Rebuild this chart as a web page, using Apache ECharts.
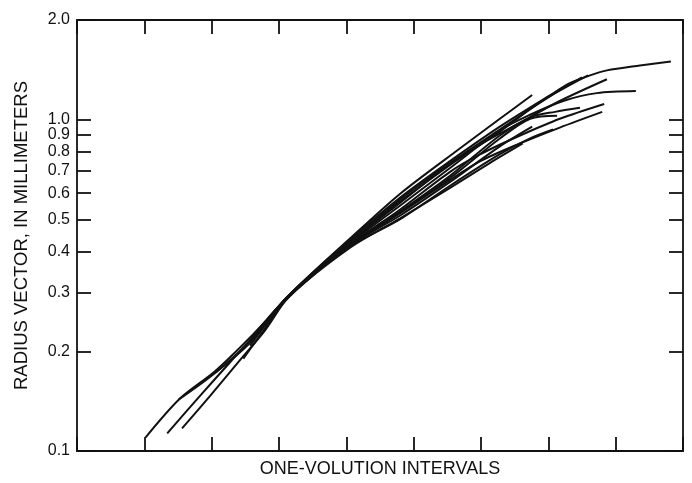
<!DOCTYPE html>
<html>
<head>
<meta charset="utf-8">
<script src="https://cdn.jsdelivr.net/npm/echarts@6/dist/echarts.min.js"></script>
<style>
  html, body { margin: 0; background: #fff; }
  #chart { width: 692px; height: 483px; }
</style>
</head>
<body>
<div id="chart"></div>
<script>
// tick values on the radius axis (mm)
const yTicks = [0.1, 0.2, 0.3, 0.4, 0.5, 0.6, 0.7, 0.8, 0.9, 1.0, 2.0];

// one curve per specimen: [volution interval, radius vector in mm]
const curveA = [[1.02, 0.110], [1.53, 0.144], [2.05, 0.174], [2.57, 0.220], [2.94, 0.265], [3.16, 0.297],
  [4.05, 0.434], [4.80, 0.582], [5.54, 0.750], [6.28, 0.953], [7.03, 1.187], [7.32, 1.289],
  [7.62, 1.361], [7.87, 1.409], [8.36, 1.458], [8.82, 1.50]];
const curveG = [[1.34, 0.113], [1.83, 0.147], [2.27, 0.185], [2.72, 0.234], [3.16, 0.297],
  [4.05, 0.437], [4.80, 0.598], [5.69, 0.820], [6.28, 1.007], [6.76, 1.187]];
const curveK = [[1.56, 0.117], [1.98, 0.147], [2.42, 0.188], [2.79, 0.231], [3.16, 0.295],
  [4.05, 0.428], [4.80, 0.574], [5.54, 0.740], [6.28, 0.934], [7.03, 1.179], [7.59, 1.361]];
const curveL = [[2.75, 0.239], [3.16, 0.297], [4.05, 0.428], [4.80, 0.566], [5.54, 0.730],
  [6.28, 0.921], [6.88, 1.131], [7.50, 1.343]];
const curveB = [[2.64, 0.226], [3.16, 0.295], [4.05, 0.425], [4.80, 0.562], [5.54, 0.735],
  [5.99, 0.843], [6.58, 0.980], [7.17, 1.139], [7.87, 1.325]];
const curveC = [[1.51, 0.143], [2.05, 0.172], [2.57, 0.215], [3.16, 0.295], [4.05, 0.422],
  [4.80, 0.551], [5.54, 0.715], [6.28, 0.928], [6.73, 1.035], [7.22, 1.139], [7.72, 1.203], [8.30, 1.220]];
const curveD = [[2.84, 0.252], [3.16, 0.295], [4.05, 0.419], [4.80, 0.536], [5.54, 0.696],
  [5.99, 0.787], [6.58, 0.896], [7.17, 1.007], [7.83, 1.116]];
const curveF = [[2.69, 0.229], [3.16, 0.295], [4.05, 0.419], [4.80, 0.529], [5.54, 0.677],
  [6.28, 0.896], [6.76, 1.021], [7.10, 1.056], [7.47, 1.086]];
const curveM = [[2.90, 0.259], [3.16, 0.297], [4.05, 0.416], [4.80, 0.525], [5.54, 0.667],
  [6.28, 0.878], [6.73, 1.007], [7.13, 1.028]];
const curveE = [[2.05, 0.172], [2.57, 0.212], [3.16, 0.297], [4.05, 0.416], [4.80, 0.522],
  [5.54, 0.658], [5.99, 0.750], [6.58, 0.848], [7.17, 0.947], [7.80, 1.056]];
const curveH = [[2.79, 0.242], [3.16, 0.295], [4.05, 0.416], [4.80, 0.514], [5.54, 0.649],
  [6.28, 0.831], [6.76, 0.953]];
const curveI = [[2.47, 0.190], [2.79, 0.234], [3.16, 0.295], [4.05, 0.413], [4.80, 0.501],
  [5.54, 0.632], [6.28, 0.787], [6.73, 0.878], [7.07, 0.934]];
const curveJ = [[2.57, 0.208], [3.16, 0.293], [4.05, 0.410], [4.80, 0.504], [5.54, 0.623],
  [6.13, 0.740], [6.62, 0.848]];

const curves = [curveA, curveG, curveK, curveL, curveB, curveC, curveD, curveF, curveM, curveE, curveH, curveI, curveJ];

const ink = "#111";
const font = "'Liberation Sans', Arial, Helvetica, sans-serif";
const axisLineStyle = { color: ink, width: 1.8 };

const chart = echarts.init(document.getElementById("chart"));

chart.setOption({
  animation: false,
  backgroundColor: "#fff",
  grid: { left: 77, right: 9, top: 20, bottom: 26 },
  xAxis: [
    {
      type: "value",
      min: 0,
      max: 9,
      interval: 1,
      position: "bottom",
      name: "ONE-VOLUTION INTERVALS",
      nameLocation: "middle",
      nameGap: 9,
      nameTextStyle: { color: ink, fontSize: 18, fontFamily: font, verticalAlign: "top" },
      axisLine: { show: true, onZero: false, lineStyle: axisLineStyle },
      axisTick: { show: true, inside: true, length: 14, lineStyle: axisLineStyle },
      axisLabel: { show: false },
      splitLine: { show: false },
    },
    {
      type: "value",
      min: 0,
      max: 9,
      interval: 1,
      position: "top",
      axisLine: { show: true, onZero: false, lineStyle: axisLineStyle },
      axisTick: { show: true, inside: true, length: 14, lineStyle: axisLineStyle },
      axisLabel: { show: false },
      splitLine: { show: false },
    },
  ],
  yAxis: [
    {
      type: "log",
      logBase: 10,
      min: 0.1,
      max: 2,
      position: "left",
      name: "RADIUS VECTOR, IN MILLIMETERS",
      nameLocation: "middle",
      nameRotate: 90,
      nameGap: 46,
      nameTextStyle: { color: ink, fontSize: 18.5, fontFamily: font },
      axisLine: { show: true, onZero: false, lineStyle: axisLineStyle },
      axisTick: { show: true, inside: true, length: 14, customValues: yTicks, lineStyle: axisLineStyle },
      axisLabel: {
        customValues: yTicks,
        formatter: (v) => (+v).toFixed(1),
        color: ink,
        fontSize: 16,
        fontFamily: font,
        margin: 7,
      },
      splitLine: { show: false },
      minorTick: { show: false },
    },
    {
      type: "log",
      logBase: 10,
      min: 0.1,
      max: 2,
      position: "right",
      axisLine: { show: true, onZero: false, lineStyle: axisLineStyle },
      axisTick: { show: true, inside: true, length: 14, customValues: yTicks, lineStyle: axisLineStyle },
      axisLabel: { show: false },
      splitLine: { show: false },
    },
  ],
  series: curves.map((c) => ({
    type: "line",
    data: c,
    xAxisIndex: 0,
    yAxisIndex: 0,
    smooth: 0.3,
    showSymbol: false,
    silent: true,
    lineStyle: { color: ink, width: 2 },
  })),
});
</script>
</body>
</html>
